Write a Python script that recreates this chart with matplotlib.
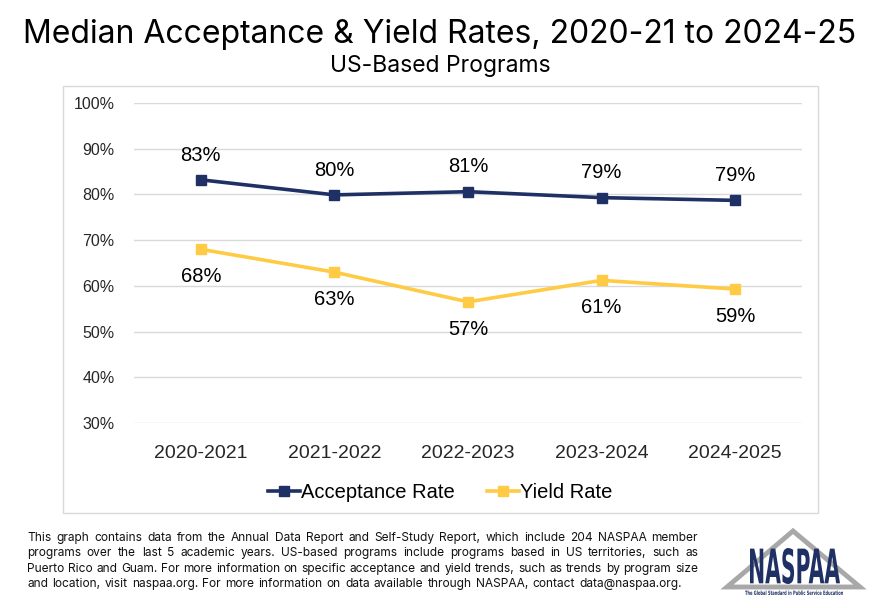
import matplotlib.pyplot as plt
from matplotlib.patches import Rectangle, Polygon, PathPatch
from matplotlib.textpath import TextPath
from matplotlib.font_manager import FontProperties
from matplotlib.transforms import Affine2D

years = ["2020-2021", "2021-2022", "2022-2023", "2023-2024", "2024-2025"]
acceptance = [83.2, 79.9, 80.6, 79.3, 78.7]
yield_rate = [68.0, 63.0, 56.5, 61.2, 59.3]
acc_labels = ["83%", "80%", "81%", "79%", "79%"]
yld_labels = ["68%", "63%", "57%", "61%", "59%"]
yticks = [30, 40, 50, 60, 70, 80, 90, 100]

navy = "#1f3064"
gold = "#ffcb45"
W, H = 880, 608

fig = plt.figure(figsize=(8.8, 6.08), dpi=100)

# overlay in pixel coords for box, titles, footnote, logo
ov = fig.add_axes([0, 0, 1, 1])
ov.set_xlim(0, W)
ov.set_ylim(H, 0)
ov.axis("off")
ov.add_patch(Rectangle((63, 86), 755, 427, fill=False, ec="#d9d9d9", lw=1))

ov.text(440, 35, "Median Acceptance & Yield Rates, 2020-21 to 2024-25", ha="center", va="center",
        fontsize=23, family="Inter")
ov.text(440, 66, "US-Based Programs", ha="center", va="center", fontsize=16.5, family="Inter")

# chart
ax = fig.add_axes([134 / W, 1 - 423 / H, 668 / W, 320 / H])
x = range(len(years))
ax.plot(x, acceptance, color=navy, lw=2.6, marker="s", ms=7, label="Acceptance Rate")
ax.plot(x, yield_rate, color=gold, lw=2.6, marker="s", ms=7, label="Yield Rate")
for i in x:
    ax.annotate(acc_labels[i], (i, acceptance[i]), xytext=(0, 11), textcoords="offset points",
                ha="center", va="bottom", fontsize=14.5, family="Liberation Sans")
    ax.annotate(yld_labels[i], (i, yield_rate[i]), xytext=(0, -13), textcoords="offset points",
                ha="center", va="top", fontsize=14.5, family="Liberation Sans")
ax.set_xlim(-0.5, len(years) - 0.5)
ax.set_ylim(30, 100)
ax.set_yticks(yticks)
ax.set_yticklabels([f"{t}%" for t in yticks], fontsize=11.5, family="Liberation Sans", color="#262626")
ax.set_xticks(list(x))
ax.set_xticklabels(years, fontsize=14, family="Liberation Sans", color="#262626")
ax.tick_params(length=0, pad=14)
ax.tick_params(axis="x", pad=16)
ax.grid(axis="y", color="#d9d9d9", lw=1)
ax.set_axisbelow(True)
for s in ax.spines.values():
    s.set_visible(False)
ax.legend(loc="center", bbox_to_anchor=(0.5, 1 - 493 / H), bbox_transform=fig.transFigure, ncol=2,
          frameon=False, prop={"family": "Liberation Sans", "size": 14.5}, handlelength=1.6,
          handletextpad=0.05, columnspacing=1.6)

# footnote, justified
foot = [
    "This graph contains data from the Annual Data Report and Self-Study Report, which include 204 NASPAA member",
    "programs over the last 5 academic years. US-based programs include programs based in US territories, such as",
    "Puerto Rico and Guam. For more information on specific acceptance and yield trends, such as trends by program size",
    "and location, visit naspaa.org. For more information on data available through NASPAA, contact data@naspaa.org.",
]
fp = FontProperties(family="Inter", size=8.6)
r = fig.canvas.get_renderer()
left, right = 27, 698
for k, line in enumerate(foot):
    y = 538 + k * 15.3
    words = line.split(" ")
    ws = [r.get_text_width_height_descent(w, fp, ismath=False)[0] for w in words]
    if k < len(foot) - 1:
        gap = (right - left - sum(ws)) / (len(words) - 1)
    else:
        gap = r.get_text_width_height_descent("n", fp, ismath=False)[0] * 0.6
    xp = left
    for w, wd in zip(words, ws):
        ov.text(xp, y, w, ha="left", va="center", fontproperties=fp, color="#111111")
        xp += wd + gap

# logo
ov.add_patch(Polygon([(727, 587), (793, 531), (860, 587)], closed=True, fill=False,
                     ec="#a8a8a8", lw=3.5, joinstyle="miter"))
tp = TextPath((0, 0), "NASPAA", prop=FontProperties(family="DejaVu Sans", weight="bold"))
b = tp.get_extents()
tr = Affine2D().translate(-b.x0, -b.y0).scale(90 / b.width, -36 / b.height).translate(750, 584)
ov.add_patch(PathPatch(tr.transform_path(tp), color=navy, lw=0))
tp2 = TextPath((0, 0), "The Global Standard in Public Service Education",
               prop=FontProperties(family="DejaVu Sans", weight="bold"))
b2 = tp2.get_extents()
tr2 = Affine2D().translate(-b2.x0, -b2.y0).scale(98 / b2.width, -4.5 / b2.height).translate(745, 595)
ov.add_patch(PathPatch(tr2.transform_path(tp2), color=navy, lw=0))

fig.savefig("out.png", dpi=100)
